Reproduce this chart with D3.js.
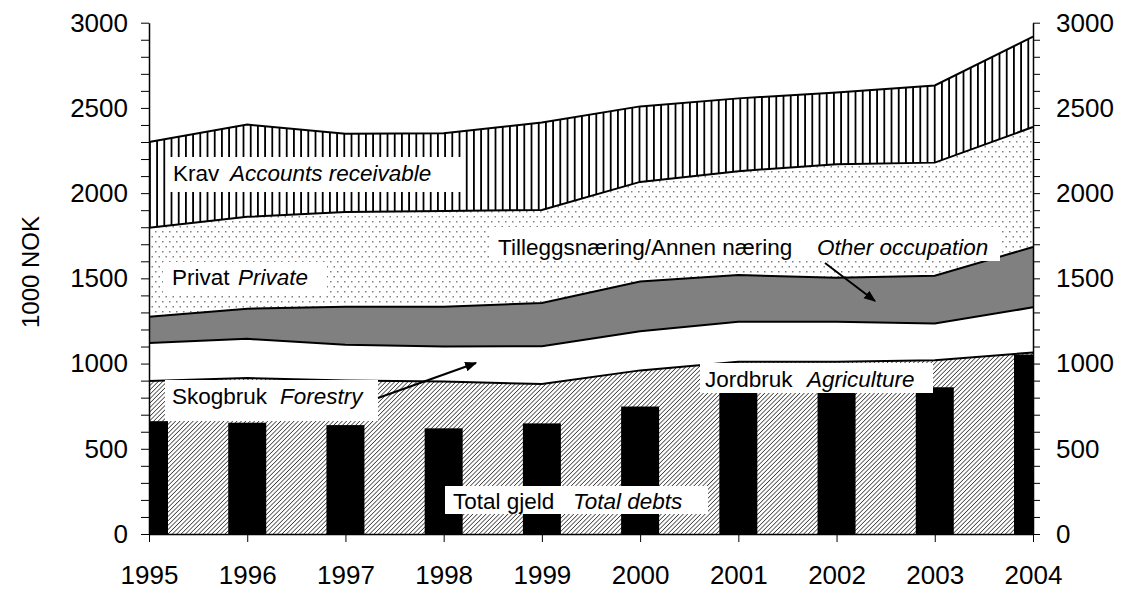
<!DOCTYPE html>
<html><head><meta charset="utf-8">
<script src="https://cdn.jsdelivr.net/npm/d3@7"></script>
<style>
html,body{margin:0;padding:0;background:#fff;}
svg text{font-family:Arial,"Liberation Sans",sans-serif;fill:#000;}
</style></head>
<body>
<svg id="chart" width="1122" height="591"></svg>
<script>
// ---- data ----
const years = [1995,1996,1997,1998,1999,2000,2001,2002,2003,2004];
const agriculture = [897,915,900,895,880,960,1010,1010,1020,1065];
const forestry    = [223,230,210,205,222,230,235,235,215,265];
const otherOcc    = [155,177,223,233,253,291,275,258,280,354];
const privateVals = [522,539,556,562,546,585,609,667,664,704];
const receivable  = [503,541,460,456,514,443,427,421,453,530];
const totalDebts  = [662,653,639,620,649,748,830,832,861,1053];
const yTicks = [0,500,1000,1500,2000,2500,3000];

const svg = d3.select("#chart");
const x = d3.scaleLinear().domain([1995,2004]).range([149,1033]);
const y = d3.scaleLinear().domain([0,3000]).range([534,22.7]);

const defs = svg.append("defs");
// agriculture hatch
const ph = defs.append("pattern").attr("id","hatch").attr("patternUnits","userSpaceOnUse")
  .attr("width",3.1).attr("height",3.1).attr("patternTransform","rotate(45)");
ph.append("rect").attr("width",3.1).attr("height",3.1).attr("fill","#fff");
ph.append("line").attr("x1",0).attr("y1",0).attr("x2",0).attr("y2",3.1).attr("stroke","#000").attr("stroke-width",1.2);
// private dots
const pd = defs.append("pattern").attr("id","dots").attr("patternUnits","userSpaceOnUse")
  .attr("width",7).attr("height",10);
pd.append("rect").attr("width",7).attr("height",10).attr("fill","#fff");
pd.append("rect").attr("x",1).attr("y",1).attr("width",1.5).attr("height",1.5).attr("fill","#808080");
pd.append("rect").attr("x",4.5).attr("y",6).attr("width",1.5).attr("height",1.5).attr("fill","#808080");
// receivable vertical lines
const pv = defs.append("pattern").attr("id","vlines").attr("patternUnits","userSpaceOnUse")
  .attr("width",7.2).attr("height",10).attr("x",149);
pv.append("rect").attr("width",7.2).attr("height",10).attr("fill","#fff");
pv.append("rect").attr("x",0).attr("y",0).attr("width",1.8).attr("height",10).attr("fill","#000");
// arrow marker
defs.append("marker").attr("id","arr").attr("viewBox","0 0 10 10").attr("refX",9).attr("refY",5)
  .attr("markerWidth",6).attr("markerHeight",6).attr("orient","auto")
  .append("path").attr("d","M0,1 L10,5 L0,9 Z").attr("fill","#000");
defs.append("clipPath").attr("id","plotclip").append("rect")
  .attr("x",x(1995)).attr("y",0).attr("width",x(2004)-x(1995)).attr("height",y(0));

const keys = ["agriculture","forestry","otherOcc","privateVals","receivable"];
const src = {agriculture,forestry,otherOcc,privateVals,receivable};
const rows = years.map((yr,i)=>{const r={year:yr}; keys.forEach(k=>r[k]=src[k][i]); return r;});
const stack = d3.stack().keys(keys)(rows);
const fills = {agriculture:"url(#hatch)",forestry:"#fff",otherOcc:"#808080",privateVals:"url(#dots)",receivable:"url(#vlines)"};

const area = d3.area().x(d=>x(d.data.year)).y0(d=>y(d[0])).y1(d=>y(d[1]));
const line = d3.line().x(d=>x(d.data.year)).y(d=>y(d[1]));

svg.append("g").selectAll("path").data(stack).join("path")
  .attr("d",area).attr("fill",d=>fills[d.key]);
svg.append("g").selectAll("path").data(stack).join("path")
  .attr("d",line).attr("fill","none").attr("stroke","#000").attr("stroke-width",2);

// bars
const bw = 38;
svg.append("g").attr("clip-path","url(#plotclip)").selectAll("rect").data(years).join("rect")
  .attr("x",(d)=>x(d)-bw/2).attr("width",bw)
  .attr("y",(d,i)=>y(totalDebts[i])).attr("height",(d,i)=>y(0)-y(totalDebts[i]))
  .attr("fill","#000");

// labels
const labels = [
  {box:[167,157,463,192], tx:173, ty:181, a:"Krav", b:"Accounts receivable", bx:230},
  {box:[163,262,327,295], tx:172, ty:285, a:"Privat", b:"Private", bx:238},
  {box:[490,227,1000,261], tx:498, ty:255, a:"Tilleggsnæring/Annen næring", b:"Other occupation", bx:817},
  {box:[165,380,378,421], tx:172, ty:404, a:"Skogbruk", b:"Forestry", bx:280},
  {box:[700,363,933,393], tx:705, ty:387, a:"Jordbruk", b:"Agriculture", bx:807},
  {box:[445,486,708,514], tx:453, ty:509, a:"Total gjeld", b:"Total debts", bx:573}
];
const lg = svg.append("g");
labels.forEach(l=>{
  lg.append("rect").attr("x",l.box[0]).attr("y",l.box[1]).attr("width",l.box[2]-l.box[0]).attr("height",l.box[3]-l.box[1]).attr("fill","#fff");
  const t = lg.append("text").attr("x",l.tx).attr("y",l.ty).style("font-size","22.5px");
  t.append("tspan").text(l.a);
  t.append("tspan").attr("x",l.bx).style("font-style","italic").text(l.b);
});
// arrows
const arrows = [[378,398,476,363],[825,263,875,301]];
svg.append("g").selectAll("line").data(arrows).join("line")
  .attr("x1",d=>d[0]).attr("y1",d=>d[1]).attr("x2",d=>d[2]).attr("y2",d=>d[3])
  .attr("stroke","#000").attr("stroke-width",2).attr("marker-end","url(#arr)");

// axes
const minor = d3.range(0,3001,100);
const fmt = d=> d%500===0 ? d : "";
const la = svg.append("g").attr("transform",`translate(${x(1995)},0)`)
  .call(d3.axisLeft(y).tickValues(minor).tickFormat(fmt).tickSize(8).tickSizeOuter(0).tickPadding(13));
const ra = svg.append("g").attr("transform",`translate(${x(2004)},0)`)
  .call(d3.axisRight(y).tickValues(minor).tickFormat(fmt).tickSize(7).tickSizeOuter(0).tickPadding(16));
const ba = svg.append("g").attr("transform",`translate(0,${y(0)})`)
  .call(d3.axisBottom(x).tickValues(years).tickFormat(d3.format("d")).tickSize(8).tickSizeOuter(0).tickPadding(21));
[la,ra,ba].forEach(g=>{
  g.selectAll("text").style("font-size","26px").style("font-family","Arial,'Liberation Sans',sans-serif").attr("fill","#000");
  g.selectAll("line").attr("stroke","#000").attr("stroke-width",1);
  g.select(".domain").attr("stroke","#000").attr("stroke-width",1.5);
});
ba.selectAll("text").attr("dy",null).attr("y",50);

svg.append("text").attr("transform","translate(39,272) rotate(-90)").attr("text-anchor","middle")
  .style("font-size","24px").text("1000 NOK");
</script>
</body></html>
